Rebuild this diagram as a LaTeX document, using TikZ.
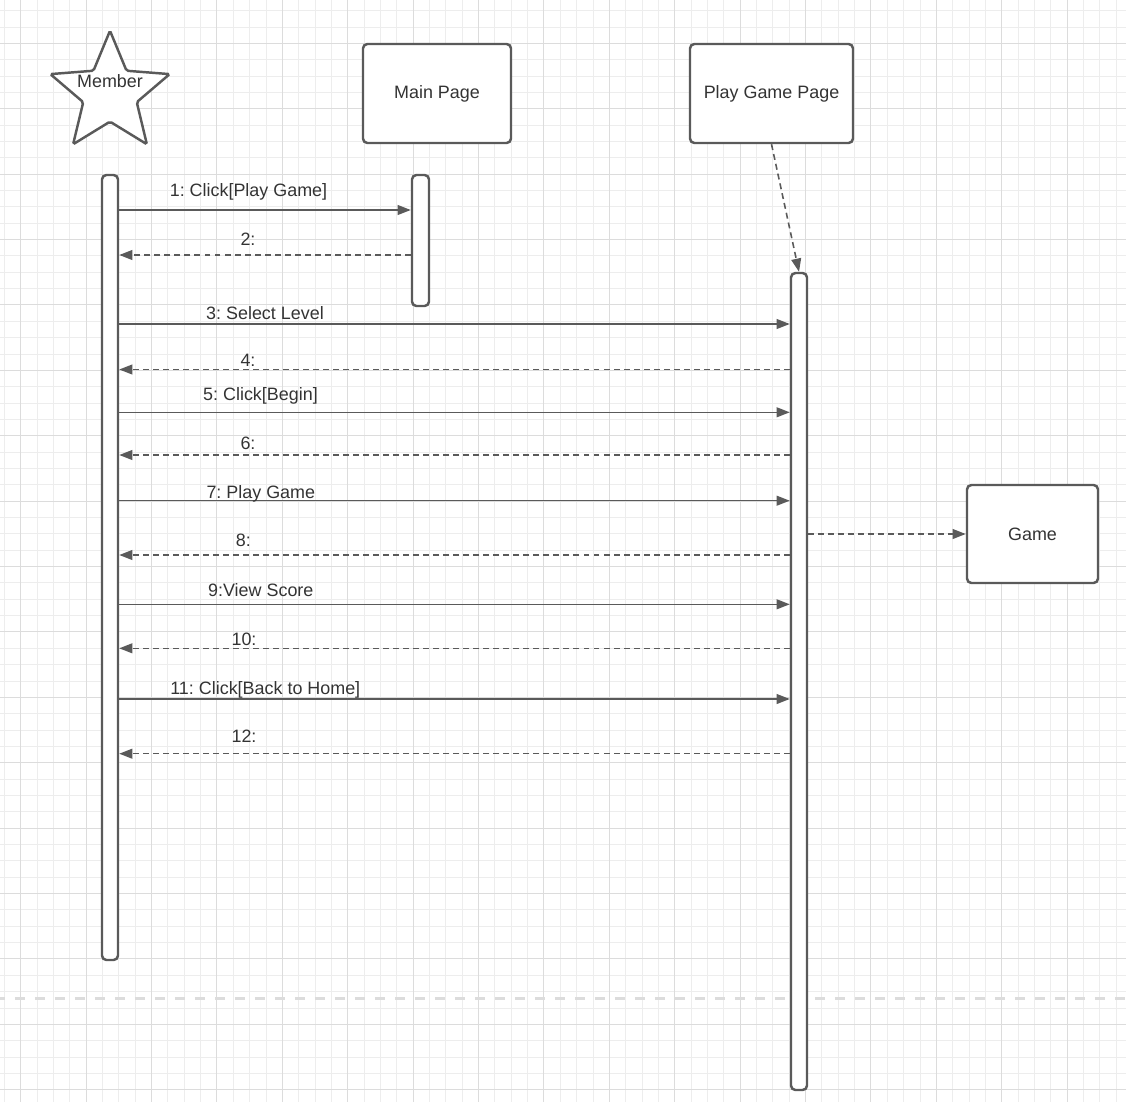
\documentclass[tikz,border=0pt]{standalone}
\usepackage{fontspec}
\setmainfont{Liberation Sans}
\frenchspacing
\usetikzlibrary{arrows.meta}
\usetikzlibrary{shapes.geometric}
\usetikzlibrary{fit}
\definecolor{ink}{HTML}{5A5A5A}
\definecolor{txt}{HTML}{333333}
\definecolor{gridmajor}{HTML}{DCDCDC}
\definecolor{gridminor}{HTML}{EDEDED}
\tikzset{lifebox/.style = {draw=ink, fill=white, line width=1.4pt, rounded corners=2.5pt, inner sep=0}}
\tikzset{bar/.style = {draw=ink, fill=white, line width=1.4pt, rounded corners=2.5pt, inner sep=0}}
\tikzset{actor/.style = {star, star points=5, star point ratio=2.23, minimum size=2.51cm,
                         draw=ink, fill=white, line width=1.4pt, inner sep=0, rounded corners=1pt}}
\tikzset{call/.style = {draw=ink, line width=0.9pt, -{Triangle[length=7.5pt, width=5.6pt]}}}
\tikzset{reply/.style = {call, dash pattern=on 3.4pt off 2.3pt}}
\tikzset{lbl/.style = {text=txt, font=\fontsize{10.2}{12}\selectfont, anchor=base, inner sep=0}}
\tikzset{boxtext/.style = {lbl, anchor=center}}

\begin{document}
\begin{tikzpicture}[x=0.02cm, y=-0.02cm]
      \useasboundingbox (0, 0) rectangle (1126, 1102);
      % grid
      \foreach \gx in {4.35, 20.7, ..., 1126}
        \draw [gridminor, line width=0.5pt] (\gx, 0) -- (\gx, 1102);
      \foreach \gy in {10.6, 26.95, ..., 1102}
        \draw [gridminor, line width=0.5pt] (0, \gy) -- (1126, \gy);
      \foreach \gx in {20.7, 86.1, ..., 1126}
        \draw [gridmajor, line width=0.6pt] (\gx, 0) -- (\gx, 1102);
      \foreach \gy in {43.3, 108.7, ..., 1102}
        \draw [gridmajor, line width=0.6pt] (0, \gy) -- (1126, \gy);
      \draw [gridmajor, line width=1.7pt, dash pattern=on 0.2cm off 0.2cm, dash phase=0.1cm]
        (0, 998) -- (1126, 998);
      % lifelines
      \node [actor] (member) at (110, 93.5) {};
      \node [lbl] (membertext) at (110, 87.3) {Member};
      \node [lifebox, fit={(363, 44) (511, 143)}] (main) {};
      \node [boxtext] (maintext) at (main.center) {Main Page};
      \node [lifebox, fit={(690, 44) (853, 143)}] (pgp) {};
      \node [boxtext] (pgptext) at (pgp.center) {Play Game Page};
      \node [lifebox, fit={(967, 485) (1098, 583)}] (game) {};
      \node [boxtext] (gametext) at (game.center) {Game};
      \node [bar, fit={(102, 175) (118, 960)}] (memberbar) {};
      \node [bar, fit={(412, 175) (429, 306)}] (mainbar) {};
      \node [bar, fit={(791, 273) (807, 1090)}] (pgpbar) {};
      \draw [reply] (pgp.south) -- (pgpbar.north);
      \draw [reply] (pgpbar.east |- game.west) -- (game.west);
      % messages
      \foreach \i/\ly/\tgt/\lx/\by/\txt in {1/210/mainbar/248.5/196/{1: Click[Play Game]},
                                           3/324/pgpbar/265/319.3/{3: Select Level},
                                           5/412.3/pgpbar/260.5/400.7/{5: Click[Begin]},
                                           7/500.7/pgpbar/260.8/498.3/{7: Play Game},
                                           9/604.3/pgpbar/260.8/596/{9:View Score},
                                           11/699/pgpbar/265.3/694/{11: Click[Back to Home]}} {
        \coordinate (y\i) at (0, \ly);
        \draw [call] (memberbar.east |- y\i) -- (\tgt.west |- y\i);
        \node [lbl] (m\i) at (\lx, \by) {\txt};
      }
      \foreach \i/\ly/\tgt/\lx/\by in {2/255/mainbar/248/245, 4/369.5/pgpbar/248/366.7,
                                       6/455/pgpbar/248/449.3, 8/555/pgpbar/243.3/546,
                                       10/648.3/pgpbar/244/645, 12/753.7/pgpbar/244/742.7} {
        \coordinate (y\i) at (0, \ly);
        \draw [reply] (\tgt.west |- y\i) -- (memberbar.east |- y\i);
        \node [lbl] (m\i) at (\lx, \by) {\i:};
      }
\end{tikzpicture}
\end{document}
